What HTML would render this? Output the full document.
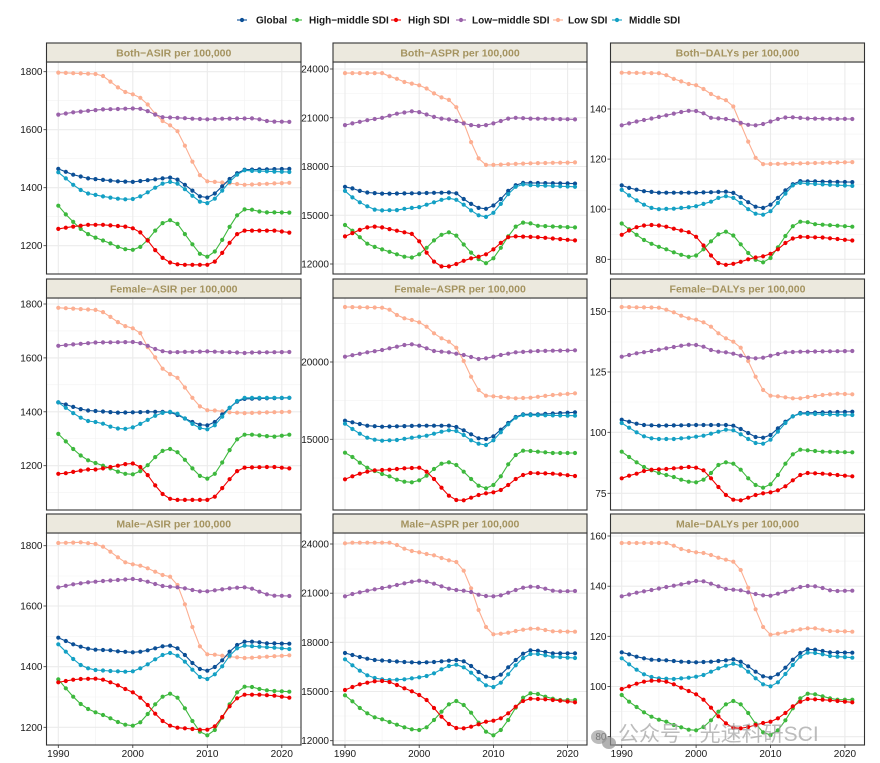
<!DOCTYPE html>
<html><head><meta charset="utf-8">
<style>
body{margin:0;background:#fff;}
svg{display:block;font-family:"Liberation Sans",Arial,sans-serif;}
</style></head><body>
<svg id="c" width="880" height="763" viewBox="0 0 880 763" xmlns="http://www.w3.org/2000/svg"></svg>
<script>
const NS="http://www.w3.org/2000/svg";
const svg=document.getElementById('c');
function el(t,a,txt){const e=document.createElementNS(NS,t);for(const k in a)e.setAttribute(k,a[k]);if(txt!==undefined)e.textContent=txt;svg.appendChild(e);return e;}
const COL={G:'#0B4F96',HM:'#3DB83D',H:'#F00000',LM:'#9A62AA',L:'#FCAE91',M:'#13A0C4'};
const ORDER=['L','LM','G','M','HM','H'];
const cols=[{l:46.5,r:301,x0:58.3,dx:7.45},{l:333,r:587,x0:345,dx:7.42},{l:610.5,r:864.5,x0:621.7,dx:7.44}];
const rows=[{st:43,t:62,b:274},{st:279,t:298,b:510},{st:514,t:533,b:745}];
function lin(v1,p1,v2,p2){return v=>p1+(v-v1)*(p2-p1)/(v2-v1);}
function interp(kf){const out=[];for(let y=1990;y<=2021;y++){let i=0;while(i<kf.length-2&&kf[i+2]<=y)i+=2;const y0=kf[i],v0=kf[i+1],y1=kf[i+2],v1=kf[i+3];out.push(y1===undefined||y1===y0?v0:v0+(v1-v0)*(y-y0)/(y1-y0));}return out;}
const P=[
{title:'Both\u2212ASIR per 100,000',c:0,r:0,map:lin(1800,71.7,1200,245.7),ticks:[1200,1400,1600,1800],minor:[1100,1300,1500,1700],
 d:{L:[1990,1797,1995,1792,1996,1785,1997,1766,1998,1746,1999,1730,2000,1722,2001,1710,2002,1687,2003,1655,2004,1630,2005,1615,2006,1595,2007,1545,2008,1490,2009,1443,2010,1422,2012,1418,2015,1410,2021,1417],
 G:[1990,1465,1992,1445,1994,1432,1998,1422,2000,1420,2004,1432,2005,1435,2006,1428,2007,1410,2008,1390,2009,1370,2010,1366,2011,1380,2012,1405,2013,1430,2014,1450,2015,1462,2021,1465],
 HM:[1990,1338,1991,1308,1992,1282,1993,1258,1994,1240,1995,1228,1996,1218,1997,1208,1998,1196,1999,1188,2000,1186,2001,1196,2002,1220,2003,1252,2004,1278,2005,1288,2006,1275,2007,1240,2008,1205,2009,1172,2010,1162,2011,1180,2012,1220,2013,1265,2014,1305,2015,1325,2016,1324,2017,1318,2018,1315,2021,1314],
 H:[1990,1258,1991,1262,1992,1266,1994,1272,1996,1272,1998,1268,1999,1266,2000,1260,2001,1246,2002,1218,2003,1185,2004,1158,2005,1142,2006,1136,2007,1134,2010,1134,2011,1145,2012,1175,2013,1210,2014,1240,2015,1252,2019,1252,2020,1249,2021,1245],
 LM:[1990,1652,1992,1660,1994,1665,1996,1670,2000,1673,2001,1672,2002,1664,2003,1652,2004,1643,2006,1641,2008,1638,2010,1636,2012,1638,2016,1639,2017,1636,2018,1630,2019,1628,2021,1627],
 M:[1990,1453,1991,1432,1992,1410,1993,1392,1994,1380,1995,1375,1996,1370,1997,1366,1998,1362,1999,1360,2000,1361,2001,1370,2002,1384,2003,1400,2004,1414,2005,1420,2006,1414,2007,1395,2008,1372,2009,1352,2010,1347,2011,1362,2012,1390,2013,1420,2014,1445,2015,1460,2016,1458,2021,1454]}},
{title:'Both\u2212ASPR per 100,000',c:1,r:0,map:lin(24000,69,12000,264),ticks:[12000,15000,18000,21000,24000],minor:[13500,16500,19500,22500],
 d:{L:[1990,23750,1995,23750,1996,23550,1997,23400,1998,23200,1999,23100,2000,23000,2001,22800,2002,22500,2003,22250,2004,22100,2005,21650,2006,20700,2007,19500,2008,18500,2009,18100,2010,18100,2015,18200,2021,18250],
 LM:[1990,20550,1993,20850,1995,21000,1997,21250,1999,21400,2000,21350,2001,21200,2002,21050,2003,20950,2004,20900,2005,20800,2006,20650,2007,20550,2008,20500,2009,20550,2010,20650,2011,20800,2012,20950,2013,21000,2015,20950,2021,20900],
 G:[1990,16750,1991,16650,1992,16500,1993,16400,1995,16330,1999,16350,2004,16400,2005,16350,2006,16000,2007,15700,2008,15450,2009,15400,2010,15600,2011,16000,2012,16500,2013,16850,2014,17000,2021,16950],
 M:[1990,16500,1991,16100,1992,15800,1993,15550,1994,15350,1995,15300,1997,15320,1998,15400,2000,15500,2002,15800,2003,15950,2004,16050,2005,15950,2006,15650,2007,15300,2008,15000,2009,14900,2010,15150,2011,15700,2012,16300,2013,16750,2014,16900,2015,16850,2021,16750],
 HM:[1990,14400,1991,14050,1992,13650,1993,13250,1994,13050,1995,12900,1996,12750,1997,12600,1998,12450,1999,12400,2000,12600,2001,13000,2002,13450,2003,13800,2004,13950,2005,13750,2006,13200,2007,12700,2008,12300,2009,12050,2010,12350,2011,13000,2012,13700,2013,14300,2014,14550,2015,14500,2016,14350,2021,14250],
 H:[1990,13700,1991,13900,1992,14100,1993,14250,1994,14300,1995,14250,1996,14150,1997,14050,1998,13950,1999,13850,2000,13400,2001,12700,2002,12150,2003,11850,2004,11850,2005,12000,2006,12200,2007,12350,2008,12450,2009,12600,2010,12900,2011,13300,2012,13650,2013,13700,2016,13650,2021,13450]}},
{title:'Both\u2212DALYs per 100,000',c:2,r:0,map:lin(140,109,80,259.3),ticks:[80,100,120,140],minor:[90,110,130,150],
 d:{L:[1990,154.5,1995,154.3,1996,153.5,1997,152,1998,151,1999,150,2000,149.5,2001,148,2002,146,2003,144.5,2004,143.5,2005,141,2006,134,2007,127,2008,120.5,2009,118,2013,118.2,2021,118.8],
 LM:[1990,133.5,1992,135,1994,136.2,1996,137.5,1998,138.8,1999,139.3,2000,139.2,2001,138.3,2002,136.5,2004,136,2005,135.5,2006,134.5,2007,133.7,2008,133.5,2009,134,2010,135,2011,136,2012,136.6,2013,136.7,2015,136.2,2021,136],
 G:[1990,109.5,1991,108.5,1992,107.8,1993,107.2,1995,106.6,2000,106.6,2004,107,2005,106.5,2006,104.8,2007,102.8,2008,101,2009,100.5,2010,101.8,2011,104.5,2012,107.5,2013,110,2014,111.2,2021,110.8],
 M:[1990,107.7,1991,105.5,1992,103.5,1993,101.8,1994,100.5,1995,100,1997,100.2,1999,100.8,2000,101.2,2002,103,2003,104.5,2004,105.2,2005,104.5,2006,102.5,2007,100,2008,98.2,2009,97.8,2010,99.2,2011,102.5,2012,106.2,2013,109.5,2014,110.5,2015,110.2,2021,109.3],
 HM:[1990,94.3,1991,92,1992,89.8,1993,87.7,1994,86.2,1995,85,1996,84,1997,82.8,1998,81.8,1999,81,2000,81.5,2001,84,2002,87.2,2003,90,2004,91,2005,89.5,2006,86,2007,82.5,2008,79.8,2009,78.8,2010,80.5,2011,84.8,2012,89.3,2013,93.2,2014,95,2015,94.8,2016,94,2021,93],
 H:[1990,89.8,1991,91.5,1992,92.8,1993,93.5,1994,93.7,1995,93.5,1996,93,1997,92.2,1998,91.5,1999,90.8,2000,89,2001,85.5,2002,81.5,2003,78.5,2004,77.8,2005,78.2,2006,79,2007,80,2008,80.7,2009,81.2,2010,82.2,2011,84,2012,86.5,2013,88.3,2014,89,2017,88.7,2021,87.5]}},
{title:'Female\u2212ASIR per 100,000',c:0,r:1,map:lin(1800,304,1200,465.7),ticks:[1200,1400,1600,1800],minor:[1100,1300,1500,1700],
 d:{L:[1990,1786,1995,1778,1996,1770,1997,1752,1998,1733,1999,1718,2000,1710,2001,1692,2002,1640,2003,1602,2004,1560,2005,1540,2006,1526,2007,1490,2008,1452,2009,1420,2010,1406,2011,1405,2012,1402,2013,1398,2015,1395,2017,1397,2021,1400],
 LM:[1990,1645,1992,1650,1995,1657,2000,1659,2001,1655,2002,1645,2003,1633,2004,1625,2005,1621,2010,1624,2014,1620,2015,1618,2016,1620,2021,1622],
 G:[1990,1435,1991,1427,1992,1418,1993,1410,1994,1405,1995,1403,1997,1399,1998,1397,2000,1398,2002,1400,2004,1400,2005,1398,2006,1388,2007,1375,2008,1362,2009,1352,2010,1350,2011,1362,2012,1390,2013,1415,2014,1438,2015,1448,2021,1452],
 M:[1990,1435,1991,1415,1992,1395,1993,1378,1994,1366,1995,1362,1996,1356,1997,1345,1998,1338,1999,1337,2000,1342,2001,1355,2002,1370,2003,1385,2004,1396,2005,1400,2006,1393,2007,1375,2008,1355,2009,1340,2010,1335,2011,1350,2012,1382,2013,1415,2014,1440,2015,1452,2021,1452],
 HM:[1990,1318,1991,1290,1992,1262,1993,1238,1994,1220,1995,1210,1996,1200,1997,1190,1998,1178,1999,1170,2000,1168,2001,1180,2002,1202,2003,1232,2004,1255,2005,1262,2006,1250,2007,1222,2008,1190,2009,1162,2010,1152,2011,1170,2012,1212,2013,1258,2014,1298,2015,1315,2016,1315,2018,1310,2019,1308,2021,1315],
 H:[1990,1170,1991,1172,1992,1177,1993,1182,1994,1186,1995,1186,1996,1190,1997,1195,1998,1200,1999,1206,2000,1208,2001,1195,2002,1165,2003,1127,2004,1095,2005,1077,2006,1073,2010,1073,2011,1085,2012,1117,2013,1150,2014,1180,2015,1193,2018,1195,2019,1195,2021,1190]}},
{title:'Female\u2212ASPR per 100,000',c:1,r:1,px:275,ticksPx:[[15000,439.3],[20000,362]],minorPx:[323.3,400.7,478],
 d:{L:[1990,96,1995,98,1996,104,1997,120,1998,130,1999,135,2000,142,2001,155,2002,175,2003,190,2004,200,2005,218,2006,258,2007,305,2008,345,2009,362,2010,364,2013,370,2015,368,2018,360,2021,355],
 LM:[1990,245,1993,232,1995,225,1998,210,1999,208,2000,212,2001,220,2002,228,2004,232,2006,240,2008,252,2009,250,2011,240,2013,232,2016,228,2021,226],
 G:[1990,437,1991,442,1993,452,1995,455,2000,452,2004,452,2005,456,2006,466,2007,478,2008,490,2009,492,2010,484,2011,464,2012,444,2013,426,2014,418,2016,418,2021,412],
 M:[1990,446,1991,462,1992,476,1993,488,1994,494,1995,497,1997,495,1999,488,2001,482,2003,470,2004,466,2005,468,2006,480,2007,496,2008,506,2009,510,2010,496,2011,472,2012,448,2013,428,2014,420,2021,422],
 HM:[1990,533,1991,546,1992,563,1993,578,1994,588,1995,597,1996,604,1997,614,1998,620,1999,622,2000,616,2001,602,2002,582,2003,566,2004,562,2005,570,2006,590,2007,612,2008,632,2009,640,2010,630,2011,604,2012,568,2013,540,2014,527,2015,528,2018,534,2021,534],
 H:[1990,613,1991,604,1992,596,1993,590,1994,586,1996,584,1998,580,2000,578,2001,590,2002,612,2003,638,2004,662,2005,675,2006,676,2007,668,2008,660,2009,655,2010,652,2011,645,2012,630,2013,612,2014,600,2015,594,2018,596,2021,603]}},
{title:'Female\u2212DALYs per 100,000',c:2,r:1,px:275,ticksPx:[[75,493.3],[100,432.3],[125,372],[150,311.7]],minorPx:[342,402,462.8],
 d:{L:[1990,96,1995,98,1996,104,1997,112,1998,122,1999,130,2000,134,2001,142,2002,155,2003,175,2004,190,2005,200,2006,218,2007,258,2008,305,2009,345,2010,362,2011,364,2013,370,2014,370,2015,366,2017,360,2019,356,2021,358],
 LM:[1990,245,1992,235,1994,228,1996,220,1998,212,1999,209,2000,210,2001,215,2002,225,2003,230,2004,232,2005,236,2006,242,2007,248,2008,250,2009,248,2010,242,2011,237,2012,232,2014,230,2021,228],
 G:[1990,434,1991,440,1992,446,1993,450,1995,452,2000,450,2004,450,2005,452,2006,462,2007,474,2008,486,2009,488,2010,480,2011,460,2012,440,2013,424,2014,414,2021,410],
 M:[1990,444,1991,458,1992,472,1993,484,1994,490,1995,492,1997,492,1999,488,2001,482,2003,470,2004,464,2005,466,2006,478,2007,492,2008,504,2009,506,2010,494,2011,470,2012,444,2013,424,2014,416,2021,420],
 HM:[1990,530,1991,546,1992,562,1993,576,1994,586,1995,594,1996,600,1997,606,1998,614,1999,620,2000,622,2001,614,2002,594,2003,570,2004,562,2005,566,2006,584,2007,610,2008,630,2009,638,2010,628,2011,600,2012,566,2013,538,2014,524,2015,526,2017,530,2021,532],
 H:[1990,610,1991,602,1992,596,1993,588,1994,584,1996,582,1998,578,1999,576,2000,578,2001,586,2002,610,2003,636,2004,660,2005,674,2006,676,2007,668,2008,660,2009,655,2010,652,2011,646,2012,634,2013,616,2014,600,2015,594,2017,596,2019,600,2021,604]}},
{title:'Male\u2212ASIR per 100,000',c:0,r:2,px:505,ticksPx:[[1200,727.3],[1400,666.7],[1600,606],[1800,545.7]],minorPx:[576,636.3,697,757],
 d:{L:[1990,114,1993,112,1995,117,1996,125,1997,140,1998,157,1999,172,2000,178,2001,182,2002,190,2003,200,2004,210,2005,215,2006,240,2007,298,2008,366,2009,424,2010,448,2011,449,2012,452,2013,455,2015,459,2016,458,2018,455,2021,451],
 LM:[1990,247,1992,238,1994,232,1996,228,1998,225,2000,222,2001,225,2002,230,2003,237,2004,243,2005,245,2006,247,2007,250,2008,255,2009,259,2010,259,2011,256,2012,253,2013,250,2014,248,2015,247,2016,251,2017,260,2018,268,2019,272,2021,273],
 G:[1990,398,1991,408,1992,418,1993,425,1994,431,1995,434,1997,436,1998,439,2000,442,2001,440,2002,436,2003,430,2004,424,2005,422,2006,430,2007,450,2008,474,2009,492,2010,497,2011,486,2012,466,2013,440,2014,420,2015,410,2016,410,2017,412,2018,415,2021,416],
 M:[1990,418,1991,440,1992,462,1993,480,1994,490,1995,495,1997,498,1999,500,2000,499,2001,490,2002,478,2003,463,2004,450,2005,444,2006,452,2007,470,2008,494,2009,516,2010,522,2011,508,2012,484,2013,452,2014,430,2015,422,2017,425,2019,428,2021,432],
 HM:[1990,523,1991,550,1992,575,1993,597,1994,612,1995,622,1996,630,1997,640,1998,651,1999,659,2000,662,2001,652,2002,627,2003,598,2004,575,2005,566,2006,578,2007,610,2008,648,2009,680,2010,691,2011,675,2012,638,2013,598,2014,562,2015,545,2016,546,2017,552,2018,556,2019,558,2021,560],
 H:[1990,532,1991,528,1992,524,1993,522,1995,521,1996,524,1997,532,1998,541,1999,552,2000,562,2001,578,2002,600,2003,626,2004,648,2005,662,2006,668,2007,670,2009,674,2010,674,2011,664,2012,636,2013,604,2014,580,2015,569,2017,569,2019,572,2021,578]}},
{title:'Male\u2212ASPR per 100,000',c:1,r:2,px:480,ticksPx:[[12000,740.7],[15000,691.5],[18000,642.3],[21000,593.2],[24000,544]],minorPx:[716,667,618,569],
 d:{L:[1990,190,1991,188,1996,188,1997,195,1998,206,1999,213,2000,217,2001,222,2002,226,2003,234,2004,241,2005,246,2006,272,2007,325,2008,390,2009,441,2010,463,2011,461,2012,458,2013,453,2014,449,2015,446,2016,446,2017,450,2018,454,2021,455],
 LM:[1990,349,1991,342,1992,337,1993,332,1994,328,1995,324,1996,320,1997,315,1998,310,1999,305,2000,302,2001,305,2002,311,2003,319,2004,326,2005,330,2006,332,2007,336,2008,344,2009,348,2010,349,2011,346,2012,338,2013,330,2014,323,2015,320,2016,321,2017,326,2018,332,2019,334,2021,333],
 G:[1990,519,1991,525,1992,531,1993,536,1994,540,1996,543,1998,546,2000,548,2002,546,2004,542,2005,540,2006,544,2007,558,2008,576,2009,590,2010,594,2011,584,2012,562,2013,540,2014,521,2015,511,2016,512,2017,516,2018,520,2021,520],
 M:[1990,538,1991,556,1992,572,1993,586,1994,594,1995,598,1996,600,1998,598,2000,592,2001,588,2002,580,2003,568,2004,558,2005,554,2006,562,2007,578,2008,598,2009,616,2010,621,2011,608,2012,583,2013,556,2014,534,2015,522,2016,522,2017,526,2018,530,2021,534],
 HM:[1990,646,1991,664,1992,684,1993,700,1994,712,1995,718,1996,726,1997,734,1998,742,1999,748,2000,750,2001,742,2002,720,2003,695,2004,673,2005,663,2006,675,2007,698,2008,728,2009,755,2010,766,2011,750,2012,720,2013,683,2014,653,2015,640,2016,642,2017,650,2018,656,2019,660,2021,660],
 H:[1990,630,1991,621,1992,613,1993,608,1994,604,1995,603,1996,606,1997,615,1998,625,1999,634,2000,645,2001,660,2002,684,2003,710,2004,732,2005,744,2006,745,2007,740,2008,733,2009,725,2010,722,2011,715,2012,700,2013,680,2014,663,2015,656,2017,658,2019,662,2021,667]}},
{title:'Male\u2212DALYs per 100,000',c:2,r:2,px:505,ticksPx:[[80,736.7],[100,686.5],[120,636.3],[140,586.2],[160,536]],minorPx:[711.6,661.4,611.2,561.1],
 d:{L:[1990,114,1996,114,1997,122,1998,132,1999,138,2000,142,2001,144,2002,150,2003,158,2004,164,2005,170,2006,195,2007,248,2008,313,2009,366,2010,389,2011,386,2012,382,2013,377,2014,373,2015,370,2016,370,2017,374,2018,378,2021,380],
 LM:[1990,274,1992,263,1994,255,1996,246,1998,238,2000,228,2001,229,2002,236,2003,244,2004,252,2005,254,2006,256,2007,262,2008,267,2009,271,2010,272,2011,266,2012,260,2013,253,2014,246,2015,243,2016,244,2017,249,2018,256,2019,258,2021,257],
 G:[1990,442,1991,448,1992,455,1993,460,1994,464,1996,466,1998,470,2000,472,2002,470,2004,466,2005,463,2006,470,2007,484,2008,500,2009,514,2010,518,2011,508,2012,488,2013,464,2014,444,2015,433,2016,434,2017,438,2018,442,2021,443],
 M:[1990,460,1991,478,1992,494,1993,508,1994,516,1995,520,1997,522,1999,518,2000,515,2001,510,2002,500,2003,490,2004,482,2005,476,2006,482,2007,500,2008,520,2009,538,2010,544,2011,532,2012,507,2013,480,2014,455,2015,443,2016,444,2017,448,2018,453,2021,458],
 HM:[1990,570,1991,590,1992,606,1993,622,1994,635,1995,644,1996,650,1997,660,1998,667,1999,674,2000,676,2001,666,2002,646,2003,620,2004,598,2005,588,2006,598,2007,624,2008,656,2009,682,2010,690,2011,676,2012,646,2013,610,2014,580,2015,566,2016,568,2017,574,2018,580,2019,584,2021,584],
 H:[1990,552,1991,544,1992,536,1993,530,1994,527,1995,527,1996,530,1997,538,1998,548,1999,558,2000,568,2001,584,2002,608,2003,634,2004,655,2005,668,2006,670,2007,666,2008,660,2009,654,2010,650,2011,640,2012,624,2013,604,2014,590,2015,582,2017,584,2019,588,2021,592]}}
];
P.forEach(p=>{
  const C=cols[p.c],R=rows[p.r];
  const clipId='cl'+p.c+p.r;
  const cp=el('clipPath',{id:clipId});
  const rc=document.createElementNS(NS,'rect');rc.setAttribute('x',C.l);rc.setAttribute('y',R.t);rc.setAttribute('width',C.r-C.l);rc.setAttribute('height',R.b-R.t);cp.appendChild(rc);
  let ticks,minor;
  if(p.map){ticks=p.ticks.map(v=>[v,p.map(v)]);minor=p.minor.map(v=>p.map(v));}
  else{ticks=p.ticksPx;minor=p.minorPx;}
  minor.forEach(y=>{if(y>R.t&&y<R.b)el('line',{x1:C.l,x2:C.r,y1:y,y2:y,stroke:'#f2f2f2','stroke-width':0.6});});
  [1995,2005,2015].forEach(yr=>{const x=C.x0+(yr-1990)*C.dx;el('line',{x1:x,x2:x,y1:R.t,y2:R.b,stroke:'#f2f2f2','stroke-width':0.6});});
  ticks.forEach(([v,y])=>{el('line',{x1:C.l,x2:C.r,y1:y,y2:y,stroke:'#ebebeb','stroke-width':1.1});
    el('line',{x1:C.l-3,x2:C.l,y1:y,y2:y,stroke:'#333','stroke-width':0.8});
    el('text',{x:C.l-4,y:y+3.5,'font-size':'10','text-anchor':'end',fill:'#1a1a1a'},String(v));});
  [1990,2000,2010,2020].forEach(yr=>{const x=C.x0+(yr-1990)*C.dx;el('line',{x1:x,x2:x,y1:R.t,y2:R.b,stroke:'#ebebeb','stroke-width':1.1});
    if(p.r===2){el('line',{x1:x,x2:x,y1:R.b,y2:R.b+3,stroke:'#333','stroke-width':0.8});
      el('text',{x:x,y:R.b+12,'font-size':'10','text-anchor':'middle',fill:'#1a1a1a'},String(yr));}});
  const g=el('g',{'clip-path':'url(#'+clipId+')'});
  ORDER.forEach(k=>{
    const vals=interp(p.d[k]);
    const pts=vals.map((v,i)=>[C.x0+i*C.dx,p.map?p.map(v):(p.px+v/3)]);
    const pl=document.createElementNS(NS,'polyline');
    pl.setAttribute('points',pts.map(q=>q[0].toFixed(1)+','+q[1].toFixed(1)).join(' '));
    pl.setAttribute('fill','none');pl.setAttribute('stroke',COL[k]);pl.setAttribute('stroke-width','1.1');g.appendChild(pl);
    pts.forEach(q=>{const c=document.createElementNS(NS,'circle');c.setAttribute('cx',q[0].toFixed(1));c.setAttribute('cy',q[1].toFixed(1));c.setAttribute('r','2.1');c.setAttribute('fill',COL[k]);g.appendChild(c);});
  });
  el('rect',{x:C.l,y:R.t,width:C.r-C.l,height:R.b-R.t,fill:'none',stroke:'#333','stroke-width':1.1});
  el('rect',{x:C.l,y:R.st,width:C.r-C.l,height:R.t-R.st,fill:'#ECE9DE',stroke:'#333','stroke-width':1.1});
  el('text',{x:(C.l+C.r)/2,y:R.st+13.5,'font-size':'10.5','font-weight':'bold','text-anchor':'middle',fill:'#A4935F'},p.title);
});
const leg=[['G','Global',242,256],['HM','High\u2212middle SDI',297,309],['H','High SDI',396,408],['LM','Low\u2212middle SDI',461,472],['L','Low SDI',558,568],['M','Middle SDI',617,629]];
leg.forEach(([k,t,x,tx])=>{el('line',{x1:x-5,x2:x+5,y1:20,y2:20,stroke:COL[k],'stroke-width':1.1});el('circle',{cx:x,cy:20,r:2.1,fill:COL[k]});
  el('text',{x:tx,y:23.5,'font-size':'10','font-weight':'bold',fill:'#1a1a1a'},t);});
// watermark
el('ellipse',{cx:599,cy:737,rx:8,ry:7,fill:'#a0a0a0','fill-opacity':'0.7'});
el('ellipse',{cx:609,cy:743,rx:7,ry:6,fill:'#909090','fill-opacity':'0.7'});
el('text',{x:618,y:741,'font-size':'21',fill:'#a0a0a0','fill-opacity':'0.7','font-family':'"Liberation Sans","Noto Sans CJK SC",sans-serif'},'公众号 · 光速科研SCI');
</script>
</body></html>
